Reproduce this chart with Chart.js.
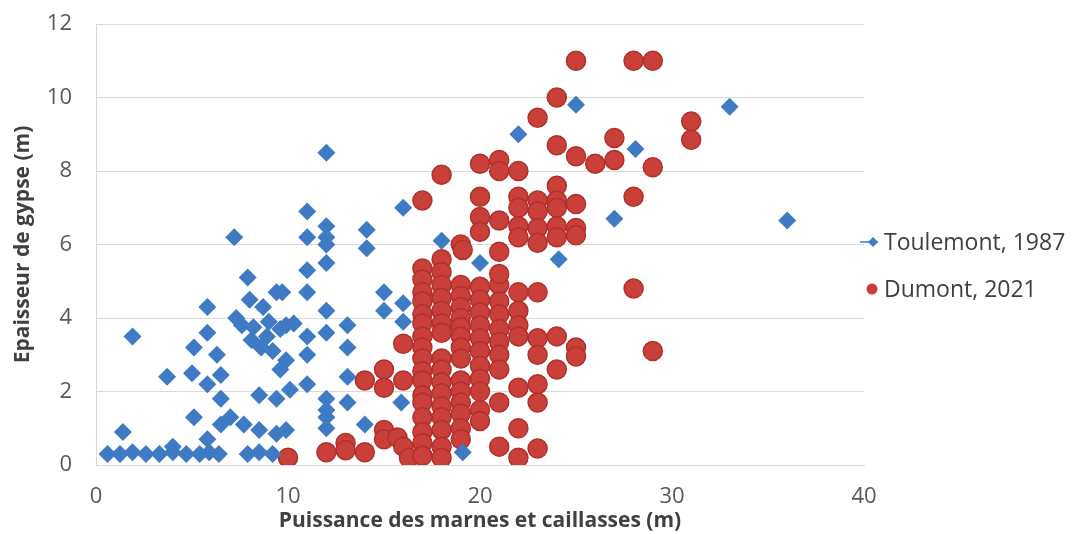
<!DOCTYPE html>
<html>
<head>
<meta charset="utf-8">
<script src="https://cdn.jsdelivr.net/npm/chart.js@4"></script>
<style>
  html, body { margin: 0; padding: 0; background: #ffffff; }
  canvas { display: block; }
</style>
</head>
<body>
<canvas id="gypseChart" width="1073" height="534"></canvas>
<script>
// Toulemont, 1987 (blue diamonds)
const toulemontX = [
  0.6, 1.25, 1.9, 2.6, 3.3, 4.0, 4.7, 5.4, 5.9, 6.4, 7.9, 8.5, 9.2,
  1.4, 4.0, 5.8, 6.5, 7.0, 7.7, 8.5, 9.4, 9.9, 5.1, 6.5,
  3.7, 5.0, 5.8, 6.5, 5.1, 6.3, 5.8, 5.8, 1.9,
  7.3, 8.2, 8.9, 9.6, 10.3, 9.2, 9.9, 9.6, 8.5, 9.4, 10.1,
  7.2, 7.9, 9.4, 8.0, 8.7, 8.6, 8.1, 9.0, 7.6,
  11, 11, 11, 12, 12, 12, 12, 12, 11, 9.7, 14.1, 14.1, 16, 15, 16, 15, 12, 18, 20,
  13.1, 9.9, 11, 12, 13.1, 11, 11, 13.1, 12, 12, 12, 13.1, 12, 14, 15.9, 19.1, 16,
  22, 25, 28.1, 33, 36, 27, 24.1,
];
const toulemontY = [
  0.3, 0.3, 0.35, 0.3, 0.3, 0.35, 0.3, 0.3, 0.35, 0.3, 0.3, 0.35, 0.3,
  0.9, 0.5, 0.7, 1.1, 1.3, 1.1, 0.95, 0.85, 0.95, 1.3, 1.8,
  2.4, 2.5, 2.2, 2.45, 3.2, 3.0, 3.6, 4.3, 3.5,
  4.0, 3.75, 3.5, 3.7, 3.85, 3.1, 2.85, 2.6, 1.9, 1.8, 2.05,
  6.2, 5.1, 4.7, 4.5, 4.3, 3.2, 3.4, 3.9, 3.8,
  6.9, 6.2, 5.3, 8.5, 6.5, 6.2, 6.0, 5.5, 4.7, 4.7, 6.4, 5.9, 7.0, 4.7, 4.4, 4.2, 4.2, 6.1, 5.5,
  3.8, 3.8, 3.5, 3.6, 3.2, 3.0, 2.2, 2.4, 1.8, 1.5, 1.3, 1.7, 1.0, 1.1, 1.7, 0.35, 3.9,
  9.0, 9.8, 8.6, 9.75, 6.65, 6.7, 5.6,
];

// Dumont, 2021 (red circles)
const dumontX = [
  10, 12, 13, 13, 14, 15, 15, 15.7, 16, 16.3, 14, 15, 15, 16, 16,
  17, 17, 17, 17, 17, 17, 17, 17, 17, 17, 17, 17, 17, 17, 17, 17, 17,
  18, 18, 18, 18, 18, 18, 18, 18, 18, 18, 18, 18, 18, 18, 18, 18,
  19, 19, 19, 19, 19, 19, 19, 19, 19, 19, 19, 19, 19, 19, 19,
  20, 20, 20, 20, 20, 20, 20, 20, 20, 20, 20,
  21, 21, 21, 21, 21, 21, 21, 21, 21,
  22, 22, 22, 22, 22, 22, 22,
  17, 18, 19.1, 20, 20, 20, 20, 21, 21, 21, 21, 21, 22, 22, 22, 22, 22,
  23, 23, 23, 23, 23, 24, 24, 24, 24, 24, 25, 25, 25, 28, 28,
  23, 24, 24, 25, 25, 26, 27, 27, 28, 29, 29, 31, 31,
  23, 23, 23, 23, 23, 24, 24, 25, 25, 29,
];
const dumontY = [
  0.2, 0.35, 0.6, 0.4, 0.35, 0.95, 0.7, 0.75, 0.5, 0.2, 2.3, 2.6, 2.1, 2.3, 3.3,
  5.35, 5.05, 4.7, 4.45, 4.1, 3.85, 3.5, 3.2, 2.9, 2.55, 2.3, 1.9, 1.7, 1.3, 0.9, 0.6, 0.25,
  5.6, 5.25, 4.9, 4.55, 4.2, 3.85, 3.6, 2.9, 2.6, 2.25, 1.95, 1.6, 1.3, 0.95, 0.5, 0.2,
  6.0, 4.9, 4.6, 4.3, 4.0, 3.75, 3.5, 3.2, 2.9, 2.3, 2.0, 1.7, 1.4, 1.0, 0.7,
  4.85, 4.5, 4.15, 3.8, 3.45, 3.1, 2.7, 2.35, 2.0, 1.5, 1.2,
  4.9, 4.45, 4.1, 3.7, 3.35, 3.0, 2.6, 1.7, 0.5,
  4.7, 4.2, 3.8, 3.5, 2.1, 1.0, 0.2,
  7.2, 7.9, 5.85, 8.2, 7.3, 6.75, 6.35, 8.3, 8.0, 6.65, 5.8, 5.2, 8.0, 7.3, 7.0, 6.5, 6.2,
  7.2, 6.9, 6.45, 6.05, 4.7, 7.6, 7.2, 7.0, 6.5, 6.2, 7.1, 6.45, 6.25, 7.3, 4.8,
  9.45, 10, 8.7, 11, 8.4, 8.2, 8.9, 8.3, 11, 11, 8.1, 9.35, 8.85,
  3.45, 3.0, 2.2, 1.7, 0.45, 3.5, 2.6, 3.2, 2.95, 3.1,
];

const seriesNames = ["Toulemont, 1987", "Dumont, 2021"];
const xTicks = [0, 10, 20, 30, 40];
const yTicks = [0, 2, 4, 6, 8, 10, 12];

const blue = "#3f7bc4";
const red = "#c9403a";
const redEdge = "#b0302c";
const textGrey = "#595959";
const titleGrey = "#404040";
const gridGrey = "#d9d9d9";

const toPoints = (xs, ys) => xs.map((x, i) => ({ x: x, y: ys[i] }));

// legend drawn at the right of the plot, Excel style
const sideLegend = {
  id: "sideLegend",
  afterDraw(chart) {
    const ctx = chart.ctx;
    ctx.save();
    ctx.font = "23px 'Open Sans'";
    ctx.fillStyle = titleGrey;
    ctx.textBaseline = "middle";
    ctx.textAlign = "left";

    // blue: short line + diamond
    let y = 242;
    ctx.strokeStyle = blue;
    ctx.lineWidth = 1.5;
    ctx.beginPath();
    ctx.moveTo(860, y);
    ctx.lineTo(878, y);
    ctx.stroke();
    ctx.fillStyle = blue;
    ctx.beginPath();
    ctx.moveTo(873, y - 5);
    ctx.lineTo(878, y);
    ctx.lineTo(873, y + 5);
    ctx.lineTo(868, y);
    ctx.closePath();
    ctx.fill();
    ctx.fillStyle = titleGrey;
    ctx.fillText(seriesNames[0], 884, y + 1);

    // red: circle
    y = 289;
    ctx.fillStyle = red;
    ctx.beginPath();
    ctx.arc(872, y, 5.5, 0, Math.PI * 2);
    ctx.fill();
    ctx.fillStyle = titleGrey;
    ctx.fillText(seriesNames[1], 884, y + 1);
    ctx.restore();
  },
};

const ctx = document.getElementById("gypseChart").getContext("2d");

new Chart(ctx, {
  type: "scatter",
  data: {
    datasets: [
      {
        label: seriesNames[0],
        data: toPoints(toulemontX, toulemontY),
        pointStyle: "rectRot",
        pointRadius: 9,
        backgroundColor: blue,
        borderColor: blue,
        borderWidth: 0,
      },
      {
        label: seriesNames[1],
        data: toPoints(dumontX, dumontY),
        pointStyle: "circle",
        pointRadius: 9.5,
        backgroundColor: red,
        borderColor: redEdge,
        borderWidth: 1.5,
      },
    ],
  },
  options: {
    responsive: false,
    animation: false,
    layout: {
      padding: { top: 24, right: 209, bottom: 0, left: 0 },
    },
    plugins: {
      legend: { display: false },
      tooltip: { enabled: false },
    },
    scales: {
      x: {
        type: "linear",
        min: 0,
        max: 40,
        afterBuildTicks: (scale) => {
          scale.ticks = xTicks.map((v) => ({ value: v }));
        },
        afterFit: (scale) => {
          scale.height = 69;
        },
        grid: { display: false, drawTicks: false },
        border: { display: true, color: gridGrey, width: 1 },
        ticks: {
          color: textGrey,
          padding: 19,
          font: { family: "'Open Sans'", size: 22 },
        },
        title: {
          display: true,
          text: "Puissance des marnes et caillasses (m)",
          color: titleGrey,
          padding: { top: 0, bottom: 0 },
          font: { family: "'Open Sans'", size: 21, weight: "bold" },
        },
      },
      y: {
        type: "linear",
        min: 0,
        max: 12,
        afterBuildTicks: (scale) => {
          scale.ticks = yTicks.map((v) => ({ value: v }));
        },
        afterFit: (scale) => {
          scale.width = 96;
        },
        // invisible tick marks keep the labels 24px off the axis
        grid: {
          color: gridGrey,
          lineWidth: 1,
          drawTicks: true,
          tickLength: 24,
          tickColor: "rgba(0,0,0,0)",
        },
        border: { display: true, color: gridGrey, width: 1 },
        ticks: {
          color: textGrey,
          padding: 0,
          font: { family: "'Open Sans'", size: 22 },
        },
        title: {
          display: true,
          text: "Epaisseur de gypse (m)",
          color: titleGrey,
          padding: { top: 10, bottom: 0 },
          font: { family: "'Open Sans'", size: 21, weight: "bold" },
        },
      },
    },
  },
  plugins: [sideLegend],
});
</script>
</body>
</html>
